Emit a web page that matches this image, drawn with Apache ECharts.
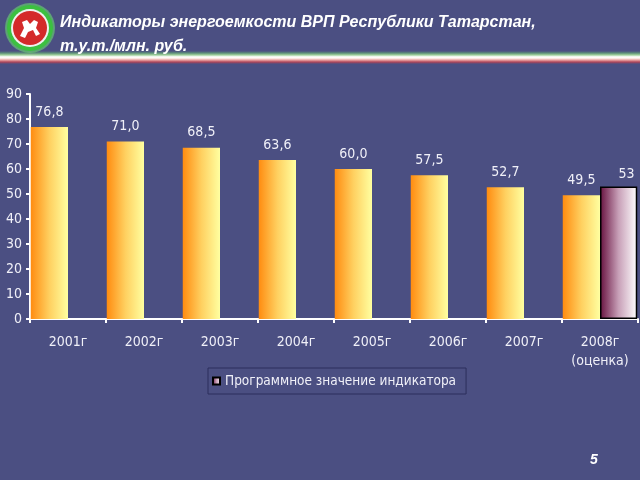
<!DOCTYPE html>
<html><head><meta charset="utf-8">
<script src="https://cdn.jsdelivr.net/npm/echarts@6/dist/echarts.min.js"></script>
<style>html,body{margin:0;padding:0;background:#4b4f82;}#c{width:640px;height:480px;}</style>
</head><body><div id="c"></div>
<script>
const categories = ['2001г','2002г','2003г','2004г','2005г','2006г','2007г','2008г\n(оценка)'];
const actualValues = [76.8, 71.0, 68.5, 63.6, 60.0, 57.5, 52.7, 49.5];
const programValues = [null, null, null, null, null, null, null, 53];
const programName = 'Программное значение индикатора';
const titleLines = ['Индикаторы энергоемкости ВРП Республики Татарстан,', 'т.у.т./млн. руб.'];
const yMax = 90, yStep = 10;

function lg(stops, vertical){ return {type:'linear', x:0, y:0, x2:vertical?0:1, y2:vertical?1:0, colorStops:stops.map(s=>({offset:s[0], color:s[1]}))}; }
const axisFont = '"DejaVu Sans Condensed","Liberation Sans",sans-serif';
const chart = echarts.init(document.getElementById('c'), null, {renderer:'canvas'});
chart.setOption({
  backgroundColor: '#4b4f82',
  animation: false,
  graphic: [
    {type:'rect', shape:{x:0,y:51,width:640,height:13}, style:{fill:lg([[0,'#4b4f82'],[0.15,'#5a8a78'],[0.3,'#9ccf98'],[0.45,'#ffffff'],[0.55,'#fff4ee'],[0.7,'#e8a0a0'],[0.85,'#b04458'],[1,'#4b4f82']], true)}},
    {type:'circle', shape:{cx:30,cy:28,r:25}, style:{fill:'#6ad870', opacity:0.6}},
    {type:'circle', shape:{cx:30,cy:28,r:23}, style:{fill:'#3cc040'}},
    {type:'circle', shape:{cx:30,cy:28,r:19}, style:{fill:'#f0f0f0'}},
    {type:'circle', shape:{cx:30,cy:28,r:17}, style:{fill:'#d42a2a'}},
    {type:'polygon', shape:{points:[[20,36],[24,28],[22,22],[27,20],[30,24],[34,20],[38,22],[36,28],[40,34],[36,36],[33,30],[28,32],[25,38]]}, style:{fill:'#ffffff'}},
    {type:'text', left:60, top:11, style:{text:titleLines.join('\n'), fill:'#ffffff', fontStyle:'italic', fontWeight:'bold', fontSize:16, fontFamily:'"Liberation Sans", Arial, sans-serif', lineHeight:24}},
    {type:'text', left:590, top:453, style:{text:'5', fill:'#ffffff', fontStyle:'italic', fontWeight:'bold', fontSize:14, fontFamily:'"Liberation Sans", Arial, sans-serif'}}
  ],
  legend: {
    data:[programName], left:208, top:368, width:245,
    borderColor:'#2c2f5c', borderWidth:1, padding:[6,10,6,4],
    itemWidth:7, itemHeight:7, icon:'rect', itemGap:0,
    textStyle:{color:'#f0f0f8', fontSize:13.5, fontFamily:axisFont}
  },
  grid: {left:30, right:2, top:94, bottom:161, containLabel:false},
  xAxis: {
    type:'category', data:categories,
    axisLine:{lineStyle:{color:'#ffffff', width:2}},
    axisTick:{show:true, length:4, lineStyle:{color:'#ffffff', width:2}},
    axisLabel:{color:'#f0f0f8', fontSize:14, fontFamily:axisFont, margin:14, lineHeight:19}
  },
  yAxis: {
    type:'value', min:0, max:yMax, interval:yStep,
    splitLine:{show:false},
    axisLine:{show:true, lineStyle:{color:'#ffffff', width:2}},
    axisTick:{show:true, length:4, lineStyle:{color:'#ffffff', width:2}},
    axisLabel:{color:'#f0f0f8', fontSize:14, fontFamily:axisFont, margin:8}
  },
  series: [
    {
      name:'Факт', type:'bar', data:actualValues, barGap:'0%', barCategoryGap:'2%',
      itemStyle:{color:lg([[0,'#ff8c10'],[0.5,'#ffd060'],[1,'#ffffa0']])},
      label:{show:true, position:'top', distance:8, color:'#f0f0f8', fontSize:14, fontFamily:axisFont, formatter:p=>p.value.toFixed(1).replace('.',',')}
    },
    {
      name:programName, type:'bar', data:programValues,
      itemStyle:{color:lg([[0,'#66103e'],[0.5,'#c8a0b8'],[1,'#ffffff']]), borderColor:'#000000', borderWidth:1.5},
      label:{show:true, position:'top', distance:5, offset:[8,0], color:'#f0f0f8', fontSize:14, fontFamily:axisFont, formatter:p=>String(p.value)}
    }
  ]
});
</script></body></html>
